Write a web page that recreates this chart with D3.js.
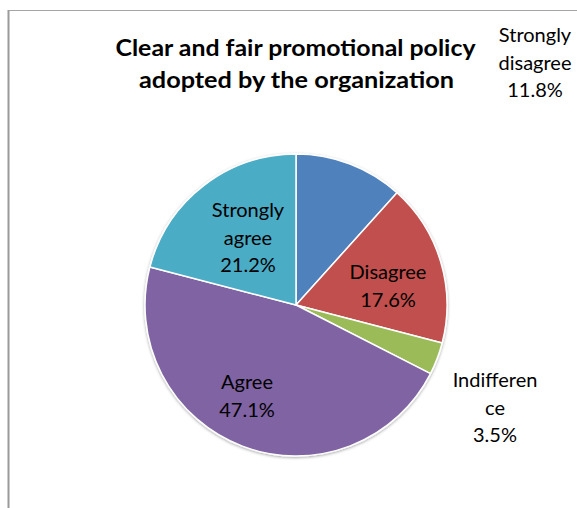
<!DOCTYPE html>
<html>
<head>
<meta charset="utf-8">
<script src="https://cdn.jsdelivr.net/npm/d3@7"></script>
<style>
body { margin: 0; background: #fff; }
svg { display: block; font-family: Lato, "Open Sans", sans-serif; }
</style>
</head>
<body>
<div id="chart"></div>
<script>
// ----------------------------------------------------------
// DATA -----------------------------------------------------
// ----------------------------------------------------------
var categories = ["Strongly disagree", "Disagree", "Indifference", "Agree", "Strongly agree"];
var values = [11.8, 17.6, 3.5, 47.1, 21.2];
var labelLines = [["Strongly", "disagree"], ["Disagree"], ["Indifferen", "ce"], ["Agree"], ["Strongly", "agree"]];
var titleLines = ["Clear and fair promotional policy", "adopted by the organization"];

// ----------------------------------------------------------
// LAYOUT ---------------------------------------------------
// ----------------------------------------------------------
var W = 577, H = 508;
var cx = 296, cy = 305, radius = 151;
var colors = ["#4F81BD", "#C0504D", "#9BBB59", "#8064A2", "#4BACC6"];
// label block centre (x) and first baseline (y), relative to pie centre
var labelPos = [[239, -263], [92, -26], [199, 82], [-49, 84], [-48, -88]];
var lineH = 27.5;
// title widths as drawn in the original (Calibri is wider than Lato)
var titleWidth = [360, 315];

var svg = d3.select("#chart").append("svg")
  .attr("width", W)
  .attr("height", H);

// frame strokes
svg.append("line")
  .attr("x1", 8).attr("x2", W).attr("y1", 10.5).attr("y2", 10.5)
  .style("stroke", "#a6a6a6").style("stroke-width", 1);
svg.append("line")
  .attr("x1", 8.5).attr("x2", 8.5).attr("y1", 10).attr("y2", H)
  .style("stroke", "#9a9a9a").style("stroke-width", 2);

// shadow
var defs = svg.append("defs");
var f = defs.append("filter").attr("id", "shadow")
  .attr("x", "-10%").attr("y", "-10%").attr("width", "120%").attr("height", "120%");
f.append("feDropShadow")
  .attr("dx", 0).attr("dy", 1).attr("stdDeviation", 1.5)
  .attr("flood-color", "#000").attr("flood-opacity", 0.35);

// ----------------------------------------------------------
// GFX ------------------------------------------------------
// ----------------------------------------------------------
var pie = d3.pie().sort(null).value(function(d) { return d; });
var arcs = pie(values);
var arc = d3.arc().innerRadius(0).outerRadius(radius);

var g = svg.append("g").attr("transform", "translate(" + cx + "," + cy + ")");

g.append("g").attr("filter", "url(#shadow)")
  .selectAll("path")
  .data(arcs)
  .enter()
  .append("path")
  .attr("d", arc)
  .style("fill", function(d, i) { return colors[i]; })
  .style("stroke", "#fff")
  .style("stroke-width", 1.5)
  .style("stroke-linejoin", "round");

// labels
var labels = g.selectAll("text.label")
  .data(arcs)
  .enter()
  .append("text")
  .attr("class", "label")
  .attr("text-anchor", "middle")
  .style("font-size", "20px")
  .style("fill", "#000");

labels.each(function(d, i) {
  var t = d3.select(this);
  var lines = labelLines[i].concat([d3.format(".1f")(values[i]) + "%"]);
  lines.forEach(function(s, j) {
    t.append("tspan")
      .attr("x", labelPos[i][0])
      .attr("y", labelPos[i][1] + j * lineH)
      .text(s);
  });
});

// ----------------------------------------------------------
// TEXT -----------------------------------------------------
// ----------------------------------------------------------
titleLines.forEach(function(s, j) {
  svg.append("text")
    .attr("x", 295.5 + j)
    .attr("y", 56 + j * 32)
    .attr("text-anchor", "middle")
    .attr("textLength", titleWidth[j])
    .attr("lengthAdjust", "spacingAndGlyphs")
    .style("font-size", "22px")
    .style("font-weight", "bold")
    .style("fill", "#000")
    .text(s);
});
</script>
</body>
</html>
